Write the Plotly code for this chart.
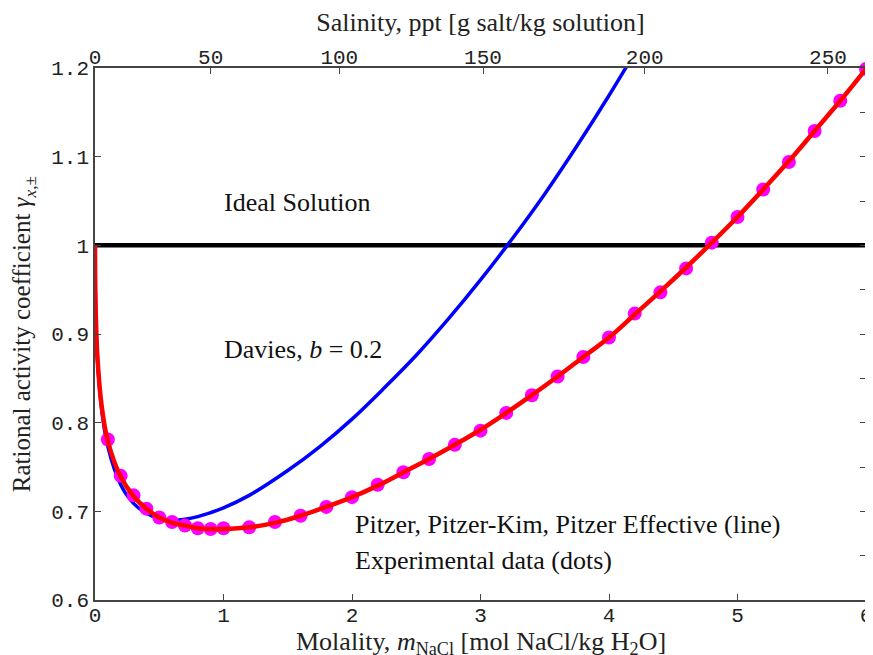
import plotly.graph_objects as go

# ---------------- data ----------------
m_ideal = [0, 6]
g_ideal = [1, 1]

m_davies = [0, 0.001, 0.005, 0.01, 0.02, 0.05, 0.1, 0.2, 0.3, 0.4, 0.5, 0.6, 0.7, 0.8,
            1.0, 1.2, 1.5, 1.75, 2.0, 2.25, 2.5, 2.75, 3.0, 3.25, 3.5, 3.75, 4.0, 4.2]
g_davies = [1.0, 0.965, 0.927, 0.901, 0.869, 0.817, 0.773, 0.730, 0.709, 0.698, 0.692, 0.690,
            0.691, 0.694, 0.704, 0.718, 0.746, 0.773, 0.804, 0.839, 0.876, 0.917, 0.961,
            1.008, 1.058, 1.112, 1.169, 1.217]

m_pitzer = [0, 0.001, 0.005, 0.01, 0.02, 0.05, 0.1, 0.2, 0.3, 0.4, 0.5, 0.6, 0.7, 0.8, 0.9,
            1.0, 1.2, 1.4, 1.6, 1.8, 2.0, 2.2, 2.4, 2.6, 2.8, 3.0, 3.2, 3.4, 3.6, 3.8, 4.0,
            4.2, 4.4, 4.6, 4.8, 5.0, 5.2, 5.4, 5.6, 5.8, 6.0]
g_pitzer = [1.0, 0.965, 0.929, 0.903, 0.871, 0.821, 0.779, 0.739, 0.717, 0.703, 0.693, 0.687,
            0.684, 0.681, 0.680, 0.680, 0.682, 0.687, 0.695, 0.705, 0.716, 0.729, 0.744,
            0.759, 0.775, 0.792, 0.811, 0.831, 0.852, 0.874, 0.896, 0.922, 0.948, 0.975,
            1.003, 1.032, 1.063, 1.095, 1.129, 1.163, 1.199]

m_exp = [0.1, 0.2, 0.3, 0.4, 0.5, 0.6, 0.7, 0.8, 0.9, 1.0, 1.2, 1.4, 1.6, 1.8, 2.0, 2.2,
         2.4, 2.6, 2.8, 3.0, 3.2, 3.4, 3.6, 3.8, 4.0, 4.2, 4.4, 4.6, 4.8, 5.0, 5.2, 5.4,
         5.6, 5.8, 6.0]
g_exp = [0.781, 0.740, 0.718, 0.703, 0.693, 0.688, 0.684, 0.681, 0.680, 0.681, 0.682,
         0.688, 0.695, 0.705, 0.716, 0.730, 0.744, 0.759, 0.775, 0.791, 0.811, 0.831,
         0.852, 0.874, 0.896, 0.923, 0.947, 0.974, 1.003, 1.032, 1.063, 1.094, 1.129,
         1.163, 1.199]

x_ticks = [0, 1, 2, 3, 4, 5, 6]
y_ticks = [0.6, 0.7, 0.8, 0.9, 1.0, 1.1, 1.2]
y_ticktext = ["0.6", "0.7", "0.8", "0.9", "1", "1.1", "1.2"]
salinity_ticks = [0, 50, 100, 150, 200, 250]
M_NACL = 58.44  # g/mol
# molality position of each salinity tick
salinity_pos = [s / (M_NACL * (1 - s / 1000.0)) for s in salinity_ticks]

SERIF = "Liberation Serif"
MONO = "Liberation Mono"
TXT = 26

fig = go.Figure()
fig.add_trace(go.Scatter(x=m_ideal, y=g_ideal, mode="lines",
                         line=dict(color="black", width=4.5), showlegend=False))
fig.add_trace(go.Scatter(x=m_davies, y=g_davies, mode="lines", line_shape="spline",
                         line=dict(color="#0000ff", width=3.5), showlegend=False))
fig.add_trace(go.Scatter(x=m_exp, y=g_exp, mode="markers", cliponaxis=False,
                         marker=dict(color="#ff00ff", size=14), showlegend=False))
fig.add_trace(go.Scatter(x=m_pitzer, y=g_pitzer, mode="lines", line_shape="spline",
                         line=dict(color="#ff0000", width=4.5), showlegend=False))
# dummy traces to activate the top and right axes
fig.add_trace(go.Scatter(x=[0], y=[1], xaxis="x2", yaxis="y", mode="markers",
                         marker=dict(opacity=0), showlegend=False, hoverinfo="skip"))
fig.add_trace(go.Scatter(x=[0], y=[1], xaxis="x", yaxis="y2", mode="markers",
                         marker=dict(opacity=0), showlegend=False, hoverinfo="skip"))

axcol = "#444444"
tickfont = dict(family=MONO, size=21, color="#222")
common = dict(ticks="inside", ticklen=6, tickcolor=axcol, showline=True, linecolor=axcol,
              linewidth=1.5, showgrid=False, zeroline=False, automargin=False)
fig.update_layout(
    width=865, height=647,
    margin=dict(l=87, r=7, t=60, b=55),
    plot_bgcolor="white", paper_bgcolor="white",
    xaxis=dict(range=[0, 6], tickvals=x_ticks, tickfont=tickfont, ticklabelstandoff=-5,
               **common),
    xaxis2=dict(range=[0, 6], overlaying="x", side="top", tickvals=salinity_pos,
                ticktext=[str(s) for s in salinity_ticks], tickfont=tickfont,
                ticklabelstandoff=-6, **common,
                title=dict(text="Salinity, ppt [g salt/kg solution]",
                           font=dict(family=SERIF, size=TXT, color="#222"), standoff=12)),
    yaxis=dict(range=[0.6, 1.2], tickvals=y_ticks, ticktext=y_ticktext, tickfont=tickfont,
               **common,
               title=dict(text="Rational activity coefficient <i>γ</i><sub><i>x</i>,±</sub>",
                          font=dict(family=SERIF, size=25, color="#222"), standoff=13)),
    yaxis2=dict(range=[0.6, 1.2], overlaying="y", side="right", dtick=0.05, tick0=0.6,
                showticklabels=False, **common),
)

# bottom axis title (as an annotation for exact placement)
fig.add_annotation(xref="paper", yref="paper", x=0.5, y=0, yanchor="top", xanchor="center",
                   yshift=-25, showarrow=False,
                   text="Molality, <i>m</i><sub>NaCl</sub> [mol NaCl/kg H<sub>2</sub>O]",
                   font=dict(family=SERIF, size=TXT, color="#222"))

ann_font = dict(family=SERIF, size=TXT, color="#111")
labels = [
    (0.99, 1.048, "Ideal Solution"),
    (0.99, 0.882, "Davies, <i>b</i> = 0.2"),
    (2.01, 0.685, "Pitzer, Pitzer-Kim, Pitzer Effective (line)"),
    (2.01, 0.644, "Experimental data (dots)"),
]
for x, y, t in labels:
    fig.add_annotation(x=x, y=y, text=t, showarrow=False, xanchor="left",
                       yanchor="middle", font=ann_font)

fig.write_html("out.html")
